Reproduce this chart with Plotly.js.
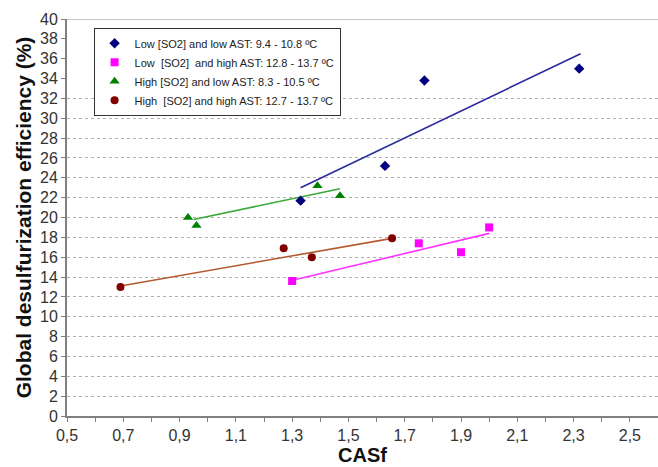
<!DOCTYPE html>
<html>
<head>
<meta charset="utf-8">
<script src="https://cdn.plot.ly/plotly-3.0.1.min.js"></script>
<style>body{margin:0;padding:0;background:#fff}#chart{width:658px;height:467px}</style>
</head>
<body>
<div id="chart"></div>
<script>
// Series names
const seriesNames = [
  "Low [SO2] and low AST: 9.4 - 10.8 ºC",
  "Low  [SO2]  and high AST: 12.8 - 13.7 ºC",
  "High [SO2] and low AST: 8.3 - 10.5 ºC",
  "High  [SO2] and high AST: 12.7 - 13.7 ºC"
];
// Data points (CASf, efficiency %)
const lowLowX   = [1.33, 1.63, 1.77, 2.32];
const lowLowY   = [21.7, 25.2, 33.8, 35.0];
const lowHighX  = [1.30, 1.75, 1.90, 2.00];
const lowHighY  = [13.6, 17.4, 16.5, 19.0];
const highLowX  = [0.93, 0.96, 1.39, 1.47];
const highLowY  = [20.0, 19.2, 23.2, 22.2];
const highHighX = [0.69, 1.27, 1.37, 1.655];
const highHighY = [13.0, 16.9, 16.0, 17.9];
// Linear trend line endpoints
const lowLowFitX   = [1.33, 2.325];
const lowLowFitY   = [23.0, 36.5];
const lowHighFitX  = [1.305, 2.0];
const lowHighFitY  = [13.7, 18.4];
const highLowFitX  = [0.95, 1.47];
const highLowFitY  = [19.8, 22.9];
const highHighFitX = [0.69, 1.655];
const highHighFitY = [13.1, 17.9];
// Grid levels shown
const gridLevels = [2,4,6,8,10,12,14,16,18,20,22,24,26,28,30,32];

const markerColors = ["#000080", "#ff00ff", "#008000", "#800000"];
const lineColors = ["#2a2aa0", "#ff33ff", "#3aa83a", "#b55a30"];
const symbols = ["diamond", "square", "triangle-up", "circle"];
const sizes = [8, 8, 9, 8];

const pts = [[lowLowX, lowLowY],[lowHighX, lowHighY],[highLowX, highLowY],[highHighX, highHighY]];
const fits = [[lowLowFitX, lowLowFitY],[lowHighFitX, lowHighFitY],[highLowFitX, highLowFitY],[highHighFitX, highHighFitY]];

const traces = [];
fits.forEach((f, i) => {
  traces.push({x: f[0], y: f[1], mode: 'lines', type: 'scatter', showlegend: false,
    line: {color: lineColors[i], width: 1.6}, hoverinfo: 'skip'});
});
pts.forEach((p, i) => {
  traces.push({x: p[0], y: p[1], mode: 'markers', type: 'scatter', name: seriesNames[i],
    marker: {color: markerColors[i], symbol: symbols[i], size: sizes[i]}});
});
// grid helper trace on overlay axis
traces.push({x: [0.5], y: [0], yaxis: 'y2', mode: 'markers', marker: {opacity: 0}, showlegend: false, hoverinfo: 'skip'});

const layout = {
  width: 658, height: 467,
  margin: {l: 67, r: 0, t: 19, b: 51},
  paper_bgcolor: '#fff', plot_bgcolor: '#fff',
  separators: ', ',
  font: {family: 'Liberation Sans, Arial, sans-serif', color: '#333'},
  showlegend: true,
  legend: {x: 0.045, y: 0.978, xanchor: 'left', yanchor: 'top',
    bgcolor: '#fff', bordercolor: '#333', borderwidth: 1,
    font: {size: 11, color: '#222'}, tracegroupgap: 0, itemwidth: 30},
  xaxis: {range: [0.5, 2.6], tick0: 0.5, dtick: 0.2, tickformat: '.1f',
    ticks: 'outside', ticklen: 4, tickcolor: '#808080', tickwidth: 1,
    minor: {dtick: 0.1, tick0: 0.5, ticks: 'outside', ticklen: 4, tickcolor: '#808080', showgrid: false},
    showline: true, linecolor: '#808080', linewidth: 2, showgrid: false, zeroline: false,
    tickfont: {size: 16, color: '#333'},
    title: {text: '<b>CASf</b>', font: {size: 20, color: '#111'}, standoff: 4}},
  yaxis: {range: [0, 40], dtick: 2, ticks: 'outside', ticklen: 4, tickcolor: '#808080',
    showline: true, linecolor: '#808080', linewidth: 2, showgrid: false, zeroline: false,
    tickfont: {size: 16, color: '#333'},
    title: {text: '<b>Global desulfurization efficiency (%)</b>', font: {size: 21, color: '#111'}, standoff: 3}},
  yaxis2: {overlaying: 'y', range: [0, 40], tickvals: gridLevels, showticklabels: false,
    ticks: '', showgrid: true, gridcolor: '#b0b0b0', griddash: 'dot', gridwidth: 1,
    showline: false, zeroline: false, side: 'left'},
  shapes: [{type: 'line', xref: 'paper', yref: 'y', x0: 0, x1: 1, y0: 40, y1: 40,
    line: {color: '#c8c8c8', width: 2}, layer: 'below'}]
};
Plotly.newPlot('chart', traces, layout, {displayModeBar: false, staticPlot: true});
</script>
</body>
</html>
